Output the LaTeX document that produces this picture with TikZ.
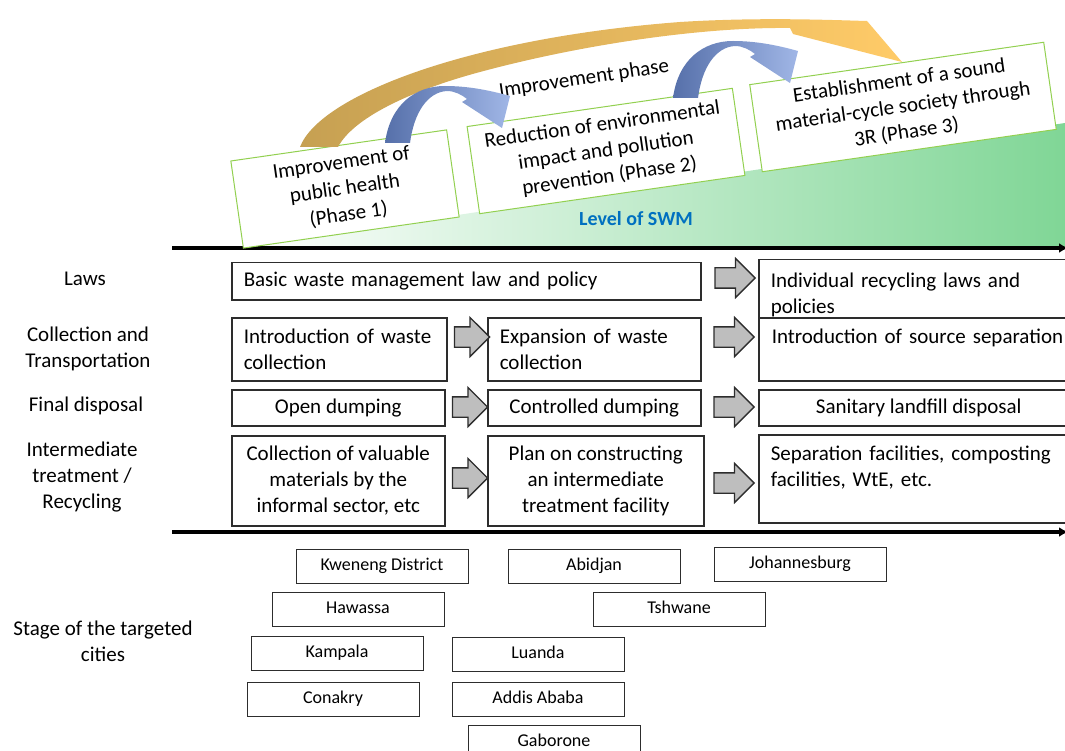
\documentclass[tikz,border=0pt]{standalone}
\usepackage{fontspec}
\setmainfont{Carlito}
\usetikzlibrary{shapes.arrows,arrows.meta}

\definecolor{swmgreen}{RGB}{128,214,150}
\definecolor{phaseline}{RGB}{146,208,80}
\definecolor{swmblue}{RGB}{0,112,192}
\definecolor{golddark}{RGB}{198,160,82}
\definecolor{goldlight}{RGB}{255,203,104}
\definecolor{bluedark}{RGB}{86,112,170}
\definecolor{bluelight}{RGB}{160,182,230}
\definecolor{arrowgray}{RGB}{190,190,190}
\definecolor{boxline}{RGB}{45,45,45}

\begin{document}
\begin{tikzpicture}[x=1pt, y=-1pt,
    every node/.style={font=\fontsize{21}{26}\selectfont},
    phase/.style={draw=phaseline, line width=1pt, fill=white, rotate=8.2, align=center, inner sep=0pt, minimum height=88pt},
    cell/.style={draw=boxline, line width=1.5pt, fill=white, anchor=north west, inner sep=0pt},
    lcell/.style={cell, align=left},
    ccell/.style={cell, align=center},
    flow/.style={single arrow, draw=boxline, line width=1.3pt, fill=arrowgray, minimum height=40pt, minimum width=38pt, single arrow head extend=9.5pt, inner xsep=0pt, inner ysep=9.5pt},
    city/.style={draw=boxline, line width=1pt, minimum width=172pt, minimum height=34pt, text height=12pt, text depth=3pt, font=\fontsize{18}{22}\selectfont},
    axis/.style={line width=4pt, -{Latex[length=9pt,width=10pt]}}]
    \useasboundingbox (0,0) rectangle (1065,751);

    % level of SWM
    \shade[left color=white, right color=swmgreen] (240,248) -- (1065,123) -- (1065,248) -- cycle;
    \draw[axis] (172,248) -- (1068,248);
    \draw[axis] (172,532) -- (1068,532);

    % phases
    \node[phase, minimum width=218pt] (ph1) at (345,189) {Improvement of\\public health\\(Phase 1)};
    \node[phase, minimum width=268pt] (ph2) at (606,151) {Reduction of environmental\\impact and pollution\\prevention (Phase 2)};
    \node[phase, minimum width=297pt] (ph3) at (903,107) {Establishment of a sound\\material-cycle society through\\3R (Phase 3)};
    \node[rotate=8.5] (imp) at (584,79) {Improvement phase};
    \node[font=\fontsize{20}{24}\selectfont\bfseries, text=swmblue] (lvl) at (636,219) {Level of SWM};

    % long curved arrow over all phases
    \shade[left color=golddark, right color=goldlight]
        (300,147) .. controls (320,95) and (470,38) .. (680,22)
        .. controls (760,17) and (830,20) .. (867,21) -- (902,62) -- (793,34) -- (790,28)
        .. controls (700,27) and (580,45) .. (480,72)
        .. controls (420,88) and (355,115) .. (338,147) -- cycle;

    % short curved arrows between phases
    \foreach \dx/\dy in {0/0, 288/-45} {
        \shade[shift={(\dx,\dy)}, left color=bluedark, right color=bluelight]
            (385,143) .. controls (390,105) and (415,86) .. (445,86)
            .. controls (470,86) and (492,91) .. (510,96) -- (502,128) -- (462,102) -- (467,99)
            .. controls (462,95) and (455,91) .. (447,91)
            .. controls (428,92) and (414,112) .. (410,143) -- cycle;
    }

    % row labels
    \node (lbl1) at (85,279) {Laws};
    \node[align=center] (lbl2) at (88,349) {Collection and\\Transportation};
    \node (lbl3) at (86,406) {Final disposal};
    \node[align=center] (lbl4) at (82,477) {Intermediate\\treatment /\\Recycling};
    \node[align=center] (lbl5) at (103,641) {Stage of the targeted\\cities};

    % laws
    \node[lcell, minimum width=469pt, minimum height=37pt, text width=445pt] (law1) at (231,262) {Basic waste management law and policy};
    \node[lcell, minimum width=320pt, minimum height=58pt, text width=296pt] (law2) at (758,259) {\rule{0pt}{26pt}Individual recycling laws and\\policies};
    % collection and transportation
    \node[lcell, minimum width=215pt, minimum height=63pt, text width=191pt] (col1) at (231,317) {Introduction of waste\\collection};
    \node[lcell, minimum width=213pt, minimum height=63pt, text width=189pt] (col2) at (487,317) {Expansion of waste\\collection};
    \node[lcell, minimum width=320pt, minimum height=63pt, text width=294pt] (col3) at (758,317) {Introduction of source separation\\\mbox{}};
    % final disposal
    \node[ccell, minimum width=213pt, minimum height=36pt] (fin1) at (231,389) {Open dumping};
    \node[ccell, minimum width=213pt, minimum height=36pt] (fin2) at (487,389) {Controlled dumping};
    \node[ccell, minimum width=320pt, minimum height=36pt] (fin3) at (758,389) {Sanitary landfill disposal};
    % intermediate treatment
    \node[ccell, minimum width=213pt, minimum height=90pt] (int1) at (231,435) {Collection of valuable\\materials by the\\informal sector, etc};
    \node[ccell, minimum width=216pt, minimum height=90pt] (int2) at (487,435) {Plan on constructing\\an intermediate\\treatment facility};
    \node[lcell, minimum width=320pt, minimum height=88pt, text width=296pt] (int3) at (758,434) {Separation facilities, composting\\facilities, WtE, etc.\\\mbox{}};

    % steps between the stages
    \node[flow] (a1) at (730,278) {};
    \node[flow, minimum height=35pt] (a2) at (467,337) {};
    \node[flow] (a3) at (729,337) {};
    \node[flow, minimum height=35pt] (a4) at (465,407) {};
    \node[flow] (a5) at (729,407) {};
    \node[flow, minimum height=35pt] (a6) at (465,478) {};
    \node[flow] (a7) at (729,483) {};

    % targeted cities
    \node[city] (kweneng) at (382,566) {Kweneng District};
    \node[city] (abidjan) at (594,566) {Abidjan};
    \node[city] (johannesburg) at (800,564) {Johannesburg};
    \node[city] (hawassa) at (358,609) {Hawassa};
    \node[city] (tshwane) at (679,609) {Tshwane};
    \node[city] (kampala) at (337,653) {Kampala};
    \node[city] (luanda) at (538,654) {Luanda};
    \node[city] (conakry) at (333,699) {Conakry};
    \node[city] (addis) at (538,699) {Addis Ababa};
    \node[city] (gaborone) at (554,742) {Gaborone};
\end{tikzpicture}
\end{document}
